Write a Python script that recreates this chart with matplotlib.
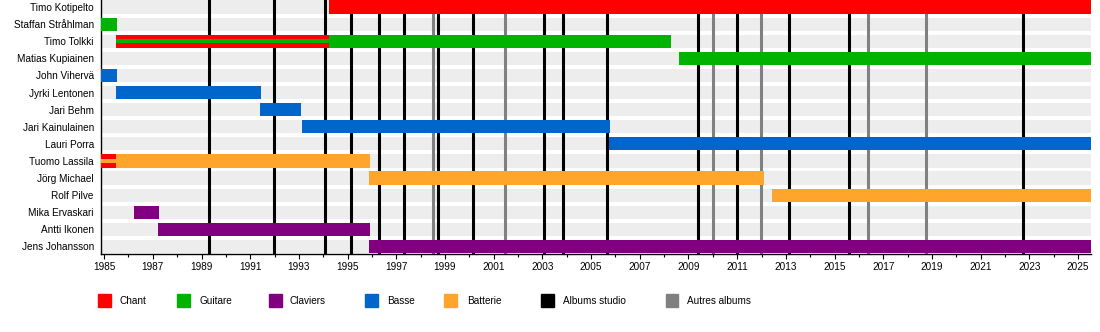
import matplotlib
matplotlib.use('Agg')
import matplotlib.pyplot as plt
from matplotlib.patches import Rectangle

plt.rcParams['font.family'] = ['Liberation Sans', 'DejaVu Sans']

# data
members = [
	'Timo Kotipelto', 'Staffan Stråhlman', 'Timo Tolkki', 'Matias Kupiainen',
	'John Vihervä', 'Jyrki Lentonen', 'Jari Behm', 'Jari Kainulainen',
	'Lauri Porra', 'Tuomo Lassila', 'Jörg Michael', 'Rolf Pilve',
	'Mika Ervaskari', 'Antti Ikonen', 'Jens Johansson',
]

START = 1984.86
END = 2025.52

# (member, from, till, role, second role drawn as a thin inner stripe)
periods = [
	('Timo Kotipelto', 1994.23, END, 'Chant', None),
	('Staffan Stråhlman', START, 1985.52, 'Guitare', None),
	('Timo Tolkki', 1985.48, 1994.23, 'Chant', 'Guitare'),
	('Timo Tolkki', 1994.23, 2008.28, 'Guitare', None),
	('Matias Kupiainen', 2008.61, END, 'Guitare', None),
	('John Vihervä', START, 1985.52, 'Basse', None),
	('Jyrki Lentonen', 1985.48, 1991.44, 'Basse', None),
	('Jari Behm', 1991.40, 1993.08, 'Basse', None),
	('Jari Kainulainen', 1993.12, 2005.78, 'Basse', None),
	('Lauri Porra', 2005.74, END, 'Basse', None),
	('Tuomo Lassila', START, 1985.48, 'Chant', 'Batterie'),
	('Tuomo Lassila', 1985.48, 1995.92, 'Batterie', None),
	('Jörg Michael', 1995.87, 2012.10, 'Batterie', None),
	('Rolf Pilve', 2012.43, END, 'Batterie', None),
	('Mika Ervaskari', 1986.22, 1987.25, 'Claviers', None),
	('Antti Ikonen', 1987.21, 1995.92, 'Claviers', None),
	('Jens Johansson', 1995.87, END, 'Claviers', None),
]

studio_albums = [1989.31, 1991.98, 1994.08, 1995.15, 1996.30, 1997.33,
	1998.72, 2000.16, 2003.08, 2003.83, 2005.64, 2009.38, 2011.00,
	2013.13, 2015.61, 2022.72]
other_albums = [1998.52, 2001.46, 2010.00, 2011.98, 2016.39, 2018.75]

legend_labels = ['Chant', 'Guitare', 'Claviers', 'Basse', 'Batterie',
	'Albums studio', 'Autres albums']

colors = {
	'Chant': '#ff0000',
	'Guitare': '#00b300',
	'Claviers': '#800080',
	'Basse': '#0066cc',
	'Batterie': '#ffa52b',
	'Albums studio': '#000000',
	'Autres albums': '#808080',
}

W, H = 1100, 332
fig = plt.figure(figsize=(W / 100, H / 100), dpi=100)
ax = fig.add_axes([100.7 / W, 1 - 254 / H, 990 / W, 254 / H])

bar_h = 0.77
rows = {name: i for i, name in enumerate(members)}

# background stripes
ax.barh(range(len(members)), END - START, left=START, height=bar_h,
	color='#ededed', zorder=1)

for x in studio_albums:
	ax.axvline(x, color=colors['Albums studio'], lw=2.2, zorder=2)
for x in other_albums:
	ax.axvline(x, color=colors['Autres albums'], lw=2.2, zorder=2)

for name, a, b, role, inner in periods:
	y = rows[name]
	ax.barh(y, b - a, left=a, height=bar_h, color=colors[role], zorder=3)
	if inner:
		ax.barh(y, b - a, left=a, height=bar_h / 3, color=colors[inner], zorder=4)

ax.set_xlim(START, END)
ax.set_ylim(len(members) - 1 + 0.44, -0.41)
ax.set_yticks(range(len(members)))
ax.set_yticklabels(members, fontsize=7.2)
ax.tick_params(axis='y', length=0, pad=5)

ax.set_xticks(range(1985, 2026, 2))
ax.set_xticks(range(1985, 2026), minor=True)
ax.tick_params(axis='x', which='major', length=3.6, width=0.8, labelsize=7.2, pad=2)
ax.tick_params(axis='x', which='minor', length=2.2, width=0.8)

for s in ['top', 'right']:
	ax.spines[s].set_visible(False)
ax.spines['left'].set_linewidth(1.0)
ax.spines['bottom'].set_linewidth(1.0)

# legend, laid out by hand like the original timeline
box_x = [98, 177.3, 269, 365.3, 444, 541, 665.7]
text_x = [120, 199, 290, 387.3, 466.7, 563.3, 687.3]
for lab, bx, tx in zip(legend_labels, box_x, text_x):
	fig.add_artist(Rectangle((bx / W, 1 - 307 / H), 12.5 / W, 13 / H,
		transform=fig.transFigure, color=colors[lab]))
	fig.text(tx / W, 1 - 301.5 / H, lab, fontsize=7.2, va='center', ha='left')

fig.savefig('out.png', dpi=100)
